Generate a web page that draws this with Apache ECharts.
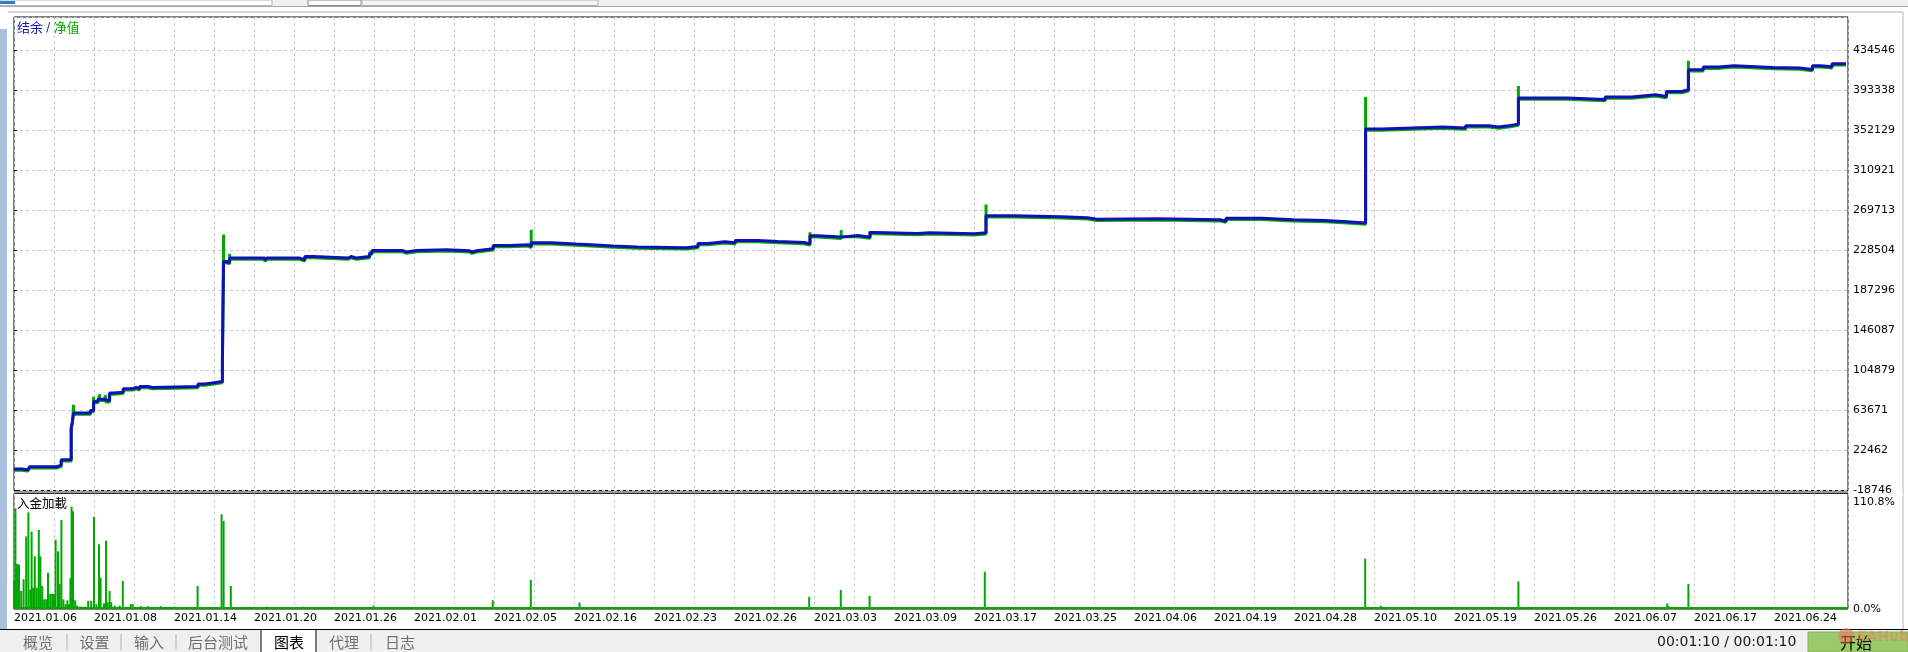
<!DOCTYPE html>
<html><head><meta charset="utf-8">
<script src="https://cdn.jsdelivr.net/npm/echarts@6/dist/echarts.min.js"></script>
<style>html,body{margin:0;padding:0;background:#fff;overflow:hidden}#c{width:1908px;height:652px}</style>
</head><body><div id="c"></div>
<script>
// ---- data (x = trade index position, one unit per vertical grid line) ----
const yTickLabels = ['-18746','22462','63671','104879','146087','187296','228504','269713','310921','352129','393338','434546'];
const loadTickLabels = ['0.0%','110.8%'];
const dateLabels = ['2021.01.06','2021.01.08','2021.01.14','2021.01.20','2021.01.26','2021.02.01','2021.02.05','2021.02.16','2021.02.23','2021.02.26','2021.03.03','2021.03.09','2021.03.17','2021.03.25','2021.04.06','2021.04.19','2021.04.28','2021.05.10','2021.05.19','2021.05.26','2021.06.07','2021.06.17','2021.06.24'];

const tradeX = [0,0.18,0.35,0.39,1.08,1.18,1.43,1.46,1.49,1.91,
  1.99,2.10,2.25,2.39,2.48,2.73,2.96,3.06,3.14,3.35,
  3.46,4.60,4.77,4.95,5.21,5.24,5.31,5.39,6.27,6.32,
  7.14,7.27,7.48,8.35,8.43,8.56,8.89,8.95,9.72,9.80,
  10.06,10.81,11.39,11.45,11.56,11.98,12.40,12.86,12.93,13.44,
  14.05,14.54,14.98,15.59,16.81,17.10,17.34,17.77,18.03,18.60,
  19.10,19.75,19.90,20.10,20.68,21.10,21.40,21.55,22.59,22.88,
  24.01,24.30,24.99,26.18,26.84,27.07,28.60,30.15,30.30,31.20,
  31.99,32.78,33.33,33.79,34.18,35.72,36.29,36.87,37.11,37.41,
  37.61,38.84,39.78,40.44,40.78,41.04,41.31,41.69,41.86,42.23,
  42.63,43.00,43.97,44.64,44.96,45.16,45.45,45.80];
const balance = [3300,2600,3300,5800,7350,12850,45550,52340,61000,63670,
  72950,75300,73600,81600,82600,86040,87380,86000,88410,87400,
  88410,90880,91910,93560,114160,217140,216140,220670,218500,220670,
  219000,222330,220670,222330,220670,222330,225840,228500,227000,228500,
  229200,228200,226800,228200,230260,233660,234400,232630,236440,235100,
  234070,233040,232010,231300,232630,235800,237470,236440,238810,237800,
  236750,235500,243650,242290,243960,242290,247050,246020,246740,245710,
  246740,264260,263230,262190,260600,261160,260130,258800,261850,260130,
  259400,258070,256730,353570,355630,354600,357000,355630,357300,358720,
  385510,384070,386540,387880,388910,387200,392310,394060,414660,417430,
  418780,417030,416410,414970,418780,417750,420840,420840];
const equity = [2100,1400,2100,4500,6050,11550,44250,51040,59700,62370,
  71650,74000,72300,80300,81300,84740,86080,84700,87110,86100,
  87110,89580,90610,92260,112860,215840,214840,219370,217200,219370,
  217700,221030,219370,221030,219370,221030,224540,227200,225700,227200,
  227900,226900,225500,226900,228960,232360,233100,231330,235140,233800,
  232770,231740,230710,230000,231330,234500,236170,235140,237510,236500,
  235450,234200,242350,240990,242660,240990,245750,244720,245440,244410,
  245440,262960,261930,260890,259300,259860,258830,257500,260550,258830,
  258100,256770,255430,352270,354330,353300,355700,354330,356000,357420,
  384210,382770,385240,386580,387610,385900,391010,392760,413360,416130,
  417480,415730,415110,413670,417480,416450,419540,419540];
const spikeX   = [1.49,1.99,2.14,2.29,5.24,5.39,12.93,19.90,20.68,21.40,24.30,33.79,37.61,41.86];
const spikeTop = [69550,77900,80300,79300,244880,225100,250000,247400,249500,248500,276000,386540,398000,424000];

const loadX = [0.00,0.035,0.075,0.125,0.18,0.24,0.305,0.36,0.41,0.44,
  0.48,0.52,0.57,0.62,0.66,0.705,0.755,0.805,0.85,0.905,
  0.955,1.00,1.04,1.10,1.14,1.185,1.235,1.29,1.335,1.375,
  1.41,1.44,1.475,1.53,1.58,1.67,1.74,1.855,1.93,2.00,
  2.06,2.125,2.165,2.25,2.30,2.34,2.39,2.43,2.52,2.64,
  2.72,2.92,2.97,3.17,3.34,3.67,4.02,4.59,5.19,5.24,
  5.42,6.32,7.22,8.99,11.97,12.15,12.92,13.32,13.55,14.14,
  14.39,14.72,15.39,15.77,16.74,17.14,17.99,19.22,19.42,19.88,
  20.17,20.44,20.67,21.17,21.39,22.49,22.62,22.89,23.39,23.94,
  24.27,24.77,25.17,25.79,26.84,27.42,27.69,27.97,29.42,29.64,
  29.82,30.22,31.14,31.69,31.87,33.73,33.78,34.17,34.64,35.17,
  35.92,36.27,37.14,37.27,37.61,38.19,38.54,39.77,41.33,41.37,
  41.86,42.14,42.39,42.89,43.64,44.39,45.39];
const loadPct = [30,104,46.6,46,18.7,30.7,75,99.8,20,80,
  22,54.5,22,81.8,54.5,23.8,10,10,37.4,15.6,
  15.6,15.6,71.6,59.6,26,92,10,5,9,5,
  31.7,105.7,101,9,3.5,2.5,2.5,8.5,8.5,95.4,
  5,67,32.3,6,70.6,7,18.7,7,3.5,3.5,
  29,5,5,3,3,3,2.5,23.8,97.8,91,
  23.8,2.5,2.5,3.5,9,2,30,2,2,6.7,
  2,2,2,2,2,2,2,1.5,1.5,12.6,
  1.5,1.5,19.7,1.5,13.6,1.5,1.5,1.5,1.5,1.5,
  38.5,1.5,1.5,1.5,1.5,1.5,1.5,2,2,1.5,
  1.5,2,1.5,1.5,1.5,1.5,52,3.4,1.5,1.5,
  1.5,1.5,1.5,1.5,28.5,1.5,1.5,1.5,5.7,3,
  26,1.5,1.5,1.5,1.5,1.5,1.5];

// ---- build series data ----
const balanceData = tradeX.map((x,i)=>[x,balance[i]]);
function equityAt(x){let v=equity[0];for(let i=0;i<tradeX.length;i++){if(tradeX[i]<=x)v=equity[i];}return v;}
const eqPts = tradeX.map((x,i)=>({x:x,v:equity[i],o:1}));
spikeX.forEach((x,i)=>{eqPts.push({x:x,v:spikeTop[i],o:0});eqPts.push({x:x,v:equityAt(x),o:2});});
eqPts.sort((a,b)=>a.x-b.x||a.o-b.o);
const equityData = eqPts.map(p=>[p.x,p.v]);
const n = Math.min(loadX.length, loadPct.length);
const loadData = []; for(let i=0;i<n;i++) loadData.push([loadX[i],loadPct[i]]);

const XMAX = 45.85;
const gridColor = '#c8c8c8';
const FONT = 'DejaVu Sans';
const CJK = 'Noto Sans CJK SC';
const chart = echarts.init(document.getElementById('c'), null, {renderer:'canvas'});

const tabs = [['概览',23],['设置',79.5],['输入',134],['后台测试',188],['图表',274],['代理',329],['日志',385]];
const graphics = [
  {type:'rect',shape:{x:0,y:0,width:1908,height:7},style:{fill:'#f0f0f0'}},
  {type:'rect',shape:{x:0,y:0,width:272,height:5.5},style:{fill:'#fff',stroke:'#b8b8b8',lineWidth:1}},
  {type:'rect',shape:{x:0,y:1,width:15,height:3},style:{fill:'#3a78c8'}},
  {type:'rect',shape:{x:308,y:0,width:53,height:5.5},style:{fill:'#fff',stroke:'#8a8a8a',lineWidth:1}},
  {type:'rect',shape:{x:362,y:0,width:236,height:5.5},style:{fill:'#f4f4f4',stroke:'#b0b0b0',lineWidth:1}},
  {type:'line',shape:{x1:0,y1:6.5,x2:1908,y2:6.5},style:{stroke:'#a8a8a8',lineWidth:1}},
  {type:'line',shape:{x1:8,y1:12,x2:1903,y2:12},style:{stroke:'#b4b4b4',lineWidth:1}},
  {type:'line',shape:{x1:1903,y1:12,x2:1903,y2:629},style:{stroke:'#b4b4b4',lineWidth:1}},
  {type:'rect',shape:{x:0,y:29,width:7,height:623},style:{fill:'#a9c1dc'}},
  {type:'text',x:0,y:598,rotation:-Math.PI/2,style:{text:'策略测试',fontFamily:CJK,fontSize:13,fill:'#000'}},
  {type:'rect',shape:{x:14,y:491,width:1834,height:2.3},style:{fill:'#9a9a9a'},z:100},
  {type:'rect',shape:{x:1849,y:493.6,width:54,height:3},style:{fill:'#fff'},z:100},
  {type:'text',x:17,y:21,style:{text:'{b|结余} {s|/} {g|净值}',rich:{b:{fill:'#1010b0',fontFamily:CJK,fontSize:13},s:{fill:'#303070',fontFamily:FONT,fontSize:12},g:{fill:'#00a800',fontFamily:CJK,fontSize:13}}},z:100},
  {type:'text',x:17,y:497,style:{text:'入金加載',fontFamily:CJK,fontSize:12.5,fill:'#000'},z:100},
  {type:'rect',shape:{x:0,y:629.5,width:1908,height:23},style:{fill:'#f0f0f0'}},
  {type:'line',shape:{x1:0,y1:629.5,x2:1908,y2:629.5},style:{stroke:'#000',lineWidth:1}},
  {type:'rect',shape:{x:261,y:629.5,width:55,height:23},style:{fill:'#fff',stroke:'#000',lineWidth:1}},
  {type:'line',shape:{x1:67,y1:634,x2:67,y2:650},style:{stroke:'#b0b0b0',lineWidth:1}},
  {type:'line',shape:{x1:121,y1:634,x2:121,y2:650},style:{stroke:'#b0b0b0',lineWidth:1}},
  {type:'line',shape:{x1:176,y1:634,x2:176,y2:650},style:{stroke:'#b0b0b0',lineWidth:1}},
  {type:'line',shape:{x1:371,y1:634,x2:371,y2:650},style:{stroke:'#b0b0b0',lineWidth:1}},
  {type:'text',x:1657,y:642.5,style:{text:'00:01:10 / 00:01:10',fontFamily:FONT,fontSize:14,fill:'#1a1a1a',verticalAlign:'middle'}},
  {type:'rect',shape:{x:1808,y:632,width:100,height:20},style:{fill:'#9bca6a',stroke:'#86b45a',lineWidth:1}},
  {type:'text',x:1840,y:643,style:{text:'开始',fontFamily:CJK,fontSize:16,fill:'#000',verticalAlign:'middle'}},
  {type:'circle',shape:{cx:1846,cy:636,r:8},style:{fill:'rgba(240,110,80,0.55)'}},
  {type:'text',x:1857,y:637,style:{text:'EAHub',fontFamily:FONT,fontSize:14,fontWeight:'bold',fill:'rgba(240,120,90,0.55)',verticalAlign:'middle'}}
];
tabs.forEach(t=>graphics.push({type:'text',x:t[1],y:642,style:{text:t[0],fontFamily:CJK,fontSize:15,fill:t[0]==='图表'?'#000':'#707070',verticalAlign:'middle'},z:10}));

const option = {
  animation:false,
  backgroundColor:'#fff',
  grid:[
    {left:14,top:17,width:1834,height:473.5,show:true,borderColor:'#000',borderWidth:1,backgroundColor:'#fff'},
    {left:14,top:493.5,width:1834,height:115.5,show:true,borderColor:'#000',borderWidth:1,backgroundColor:'#fff'}
  ],
  xAxis:[
    {gridIndex:0,type:'value',min:0,max:XMAX,interval:1,axisLine:{show:false},axisTick:{show:false},axisLabel:{show:false},
     splitLine:{show:true,lineStyle:{color:gridColor,type:[3,3],width:1}}},
    {gridIndex:1,type:'value',min:0,max:XMAX,interval:1,axisLine:{show:false},axisTick:{show:false},
     axisLabel:{show:true,margin:4,align:'left',fontFamily:FONT,fontSize:11,color:'#000',showMaxLabel:false,
       formatter:function(v){const r=Math.round(v);if(Math.abs(v-r)<1e-6&&r%2===0)return dateLabels[r/2]||'';return '';}},
     splitLine:{show:true,lineStyle:{color:gridColor,type:[3,3],width:1}}}
  ],
  yAxis:[
    {gridIndex:0,type:'value',position:'right',min:-18746,max:469059,interval:41208.36,
     axisLine:{show:false},axisTick:{show:true,length:3,lineStyle:{color:'#000'}},
     axisLabel:{margin:5,fontFamily:FONT,fontSize:11,color:'#000',showMaxLabel:false,formatter:function(v,i){return yTickLabels[i]||'';}},
     splitLine:{show:true,lineStyle:{color:gridColor,type:[3,3],width:1}}},
    {gridIndex:1,type:'value',position:'right',min:0,max:119.3,interval:110.8,
     axisLine:{show:false},axisTick:{show:false},
     axisLabel:{margin:5,fontFamily:FONT,fontSize:11,color:'#000',showMaxLabel:false,formatter:function(v,i){return loadTickLabels[i]||'';}},
     splitLine:{show:false}}
  ],
  series:[
    {name:'净值',type:'line',xAxisIndex:0,yAxisIndex:0,step:'end',data:equityData,showSymbol:false,
     lineStyle:{color:'#00a800',width:3},z:2,silent:true},
    {name:'结余',type:'line',xAxisIndex:0,yAxisIndex:0,step:'end',data:balanceData,showSymbol:false,
     lineStyle:{color:'#1010b8',width:3},z:3,silent:true},
    {name:'入金加載',type:'bar',xAxisIndex:1,yAxisIndex:1,data:loadData,barWidth:2,itemStyle:{color:'#00a800'},silent:true,
     markLine:{silent:true,symbol:'none',label:{show:false},lineStyle:{color:'#00a800',width:2,type:'solid'},data:[{yAxis:0.8}]}}
  ],
  graphic:{elements:graphics}
};
chart.setOption(option);
</script>
</body></html>
